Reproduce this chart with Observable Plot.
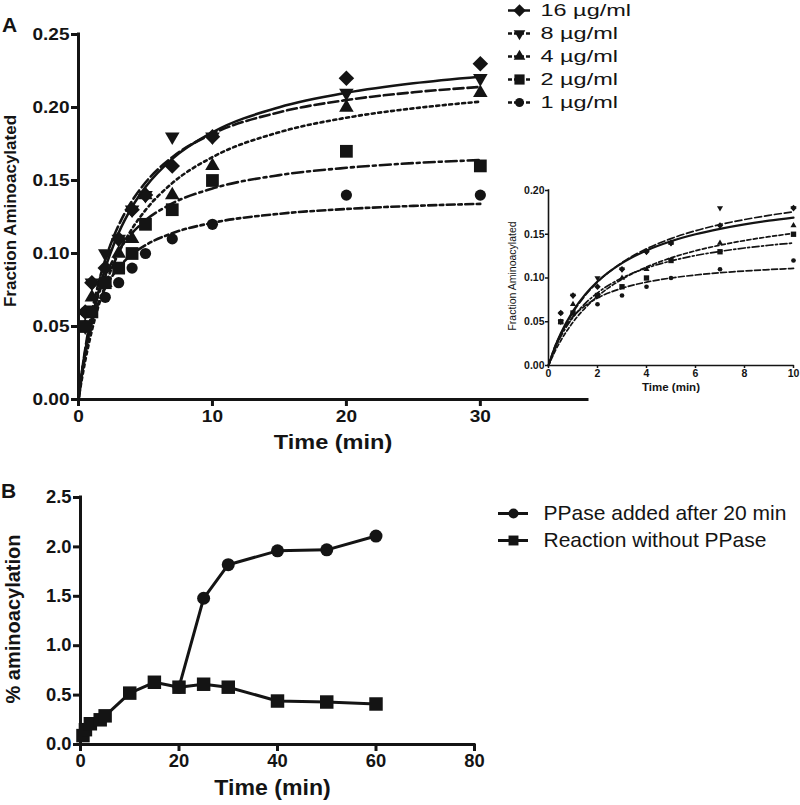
<!DOCTYPE html>
<html>
<head>
<meta charset="utf-8">
<script src="https://cdn.jsdelivr.net/npm/d3@7"></script>
<script src="https://cdn.jsdelivr.net/npm/@observablehq/plot@0.6"></script>
<style>
  html, body { margin: 0; padding: 0; background: #fff; }
  #wrap { position: relative; width: 800px; height: 805px; background: #fff; overflow: hidden;
          font-family: "Liberation Sans", Arial, Helvetica, sans-serif; }
  .panel { position: absolute; font-weight: bold; font-size: 21px; line-height: 1; color: #141414; }
</style>
</head>
<body>
<div id="wrap"></div>
<script>
// ---------------- DATA ----------------
// Panel A: observed points
const seriesNames = ["16 µg/ml", "8 µg/ml", "4 µg/ml", "2 µg/ml", "1 µg/ml"];
const tObs  = [0.5, 1, 2, 3, 4, 5, 7, 10, 20, 30];
const obs16 = [0.06, 0.08, 0.09, 0.11, 0.13, 0.14, 0.16, 0.18, 0.22, 0.23];
const obs8  = [0.05, 0.08, 0.10, 0.11, 0.13, 0.14, 0.18, 0.18, 0.21, 0.22];
const obs4  = [0.05, 0.07, 0.08, 0.10, 0.11, 0.14, 0.14, 0.16, 0.20, 0.21];
const obs2  = [0.05, 0.06, 0.08, 0.09, 0.10, 0.12, 0.13, 0.15, 0.17, 0.16];
const obs1  = [0.06, 0.06, 0.07, 0.08, 0.09, 0.10, 0.11, 0.12, 0.14, 0.14];
// Panel A: fitted curves
const tFit  = [0, 0.25, 0.5, 1, 1.5, 2, 3, 4, 5, 7, 10, 15, 20, 25, 30];
const fit16 = [0, 0.0165, 0.0310, 0.0551, 0.0743, 0.0900, 0.1142, 0.1319, 0.1455, 0.1648, 0.1830, 0.2002, 0.2101, 0.2166, 0.2211];
const fit8  = [0, 0.0186, 0.0345, 0.0602, 0.0800, 0.0958, 0.1194, 0.1361, 0.1486, 0.1660, 0.1820, 0.1968, 0.2051, 0.2104, 0.2141];
const fit4  = [0, 0.0139, 0.0263, 0.0472, 0.0642, 0.0784, 0.1005, 0.1170, 0.1297, 0.1482, 0.1660, 0.1831, 0.1930, 0.1994, 0.2040];
const fit2  = [0, 0.0182, 0.0329, 0.0555, 0.0719, 0.0844, 0.1021, 0.1140, 0.1227, 0.1343, 0.1445, 0.1537, 0.1587, 0.1619, 0.1640];
const fit1  = [0, 0.0182, 0.0322, 0.0524, 0.0664, 0.0765, 0.0904, 0.0994, 0.1057, 0.1139, 0.1210, 0.1272, 0.1305, 0.1326, 0.1340];
// Inset (0-10 min) fitted curves
const tFitIn = [0, 0.25, 0.5, 1, 1.5, 2, 3, 4, 5, 6, 7, 8, 9, 10];
const in16 = [0, 0.0201, 0.0366, 0.0623, 0.0813, 0.0960, 0.1170, 0.1315, 0.1420, 0.1500, 0.1562, 0.1613, 0.1655, 0.1690];
const in8  = [0, 0.0190, 0.0351, 0.0606, 0.0800, 0.0953, 0.1177, 0.1334, 0.1450, 0.1540, 0.1611, 0.1668, 0.1716, 0.1756];
const in4  = [0, 0.0153, 0.0283, 0.0495, 0.0659, 0.0790, 0.0986, 0.1125, 0.1230, 0.1311, 0.1375, 0.1428, 0.1472, 0.1510];
const in2  = [0, 0.0182, 0.0329, 0.0550, 0.0710, 0.0830, 0.1000, 0.1114, 0.1195, 0.1257, 0.1304, 0.1343, 0.1374, 0.1400];
const in1  = [0, 0.0210, 0.0359, 0.0558, 0.0684, 0.0771, 0.0883, 0.0953, 0.1000, 0.1034, 0.1060, 0.1080, 0.1096, 0.1110];
// Axis ticks
const xTicksA = [0, 10, 20, 30];
const yTicksA = [0, 0.05, 0.10, 0.15, 0.20, 0.25];
const xTicksIn = [0, 2, 4, 6, 8, 10];
const yTicksIn = [0, 0.05, 0.10, 0.15, 0.20];
// Panel B
const legendB = ["PPase added after 20 min", "Reaction without PPase"];
const tB        = [0.5, 1, 2, 4, 5, 10, 15, 20, 25, 30, 40, 50, 60];
const noPPase   = [0.09, 0.15, 0.21, 0.25, 0.29, 0.52, 0.63, 0.58, 0.61, 0.58, 0.44, 0.43, 0.41];
const tPPase    = [20, 25, 30, 40, 50, 60];
const withPPase = [0.58, 1.48, 1.82, 1.96, 1.97, 2.11];
const xTicksB = [0, 20, 40, 60, 80];
const yTicksB = [0, 0.5, 1.0, 1.5, 2.0, 2.5];

// ---------------- STYLE ----------------
const ink = "#141414";
const FONT = "'Liberation Sans', Arial, Helvetica, sans-serif";
const triangleDown = {
  draw(ctx, size) {
    const y = -Math.sqrt(size / (Math.sqrt(3) * 3));
    ctx.moveTo(0, -y * 2);
    ctx.lineTo(-Math.sqrt(3) * y, y);
    ctx.lineTo(Math.sqrt(3) * y, y);
    ctx.closePath();
  }
};
const symbols = ["diamond2", triangleDown, "triangle", "square", "circle"];
const symR    = [7, 5.4, 5.4, 7.2, 5.6];
const dashes  = [null, "10,4", "3,3.5", "11,4,3,4", "8,3.5,3.5,3.5"];
const inDash  = [null, "7,3", "4,2.5", "7,2.5,2,2.5", "6,2.5"];
const obsAll = [obs16, obs8, obs4, obs2, obs1];
const fitAll = [fit16, fit8, fit4, fit2, fit1];
const inAll  = [in16, in8, in4, in2, in1];
const series = seriesNames.map((name, i) => ({
  name, symbol: symbols[i], r: symR[i], dash: dashes[i], inDash: inDash[i],
  obs: obsAll[i], fit: fitAll[i], inFit: inAll[i]
}));

const wrap = document.getElementById("wrap");
function place(el, left, top) {
  el.style.position = "absolute";
  el.style.left = left + "px";
  el.style.top = top + "px";
  wrap.appendChild(el);
  return el;
}
function stretch(svg, factor) {
  svg.querySelectorAll("text").forEach(t => {
    const tr = t.getAttribute("transform") || "";
    if (tr.includes("rotate")) return;
    const len = t.getComputedTextLength();
    if (len > 0) {
      t.setAttribute("textLength", (len * factor).toFixed(2));
      t.setAttribute("lengthAdjust", "spacingAndGlyphs");
    }
  });
}
const baseStyle = (w) => ({fontFamily: FONT, fontWeight: w, color: ink, background: "transparent", overflow: "visible"});
const xLabel = (txt, dx, dy, size) => Plot.text([txt], {text: d => d, frameAnchor: "bottom",
  textAnchor: "middle", lineAnchor: "middle", dx, dy, fontSize: size, fontWeight: "bold", fill: ink});
const yLabel = (txt, dx, dy, size, weight) => Plot.text([txt], {text: d => d, frameAnchor: "left",
  textAnchor: "middle", lineAnchor: "middle", rotate: -90, dx, dy, fontSize: size, fontWeight: weight, fill: ink});

// ---------------- PANEL A (main) ----------------
const mainA = Plot.plot({
  width: 600, height: 460,
  marginLeft: 78, marginRight: 13, marginTop: 34, marginBottom: 61,
  x: {domain: [0, 38]},
  y: {domain: [0, 0.25]},
  style: baseStyle("bold"),
  marks: [
    ...series.map(s => Plot.line(d3.zip(tFit, s.fit), {
      x: d => d[0], y: d => d[1], stroke: ink, strokeWidth: 2.6,
      strokeDasharray: s.dash, curve: "monotone-x"
    })),
    ...series.map(s => Plot.dot(d3.zip(tObs, s.obs), {
      x: d => d[0], y: d => d[1], symbol: s.symbol, r: s.r, fill: ink, stroke: "none"
    })),
    Plot.axisY({ticks: yTicksA, tickFormat: d3.format(".2f"), tickSize: 7, tickPadding: 2,
      strokeWidth: 3, fontSize: 17, fontWeight: "bold", fill: ink, label: null}),
    Plot.axisX({ticks: xTicksA, tickFormat: d3.format("d"), tickSize: 7, tickPadding: 3,
      strokeWidth: 3, fontSize: 17, fontWeight: "bold", fill: ink, label: null}),
    Plot.ruleX([0], {stroke: ink, strokeWidth: 3, strokeLinecap: "square"}),
    Plot.ruleY([0], {stroke: ink, strokeWidth: 3, strokeLinecap: "square"}),
    xLabel("Time (min)", 0, 43, 21),
    yLabel("Fraction Aminoacylated", -68, -6, 17, "bold")
  ]
});
place(mainA, 0, 0);
stretch(mainA, 1.12);

// ---------------- PANEL A legend ----------------
const legA = Plot.plot({
  width: 150, height: 115, margin: 0,
  x: {domain: [0, 150], range: [0, 150], axis: null},
  y: {type: "point", domain: seriesNames, range: [8, 103], padding: 0, axis: null},
  style: baseStyle("normal"),
  marks: [
    ...series.map(s => Plot.ruleY([s.name], {x1: 8, x2: 30, stroke: ink, strokeWidth: 2.5,
      strokeDasharray: s.dash ? "4,2" : null})),
    ...series.map(s => Plot.dot([s.name], {x: 19, y: d => d, symbol: s.symbol,
      r: s.r * 0.8, fill: ink, stroke: "none"})),
    Plot.text(seriesNames, {x: 40, y: d => d, text: d => d, textAnchor: "start",
      fontSize: 17, fill: ink})
  ]
});
place(legA, 500, 0);
stretch(legA, 1.38);

// ---------------- PANEL A inset ----------------
const inset = Plot.plot({
  width: 310, height: 215,
  marginLeft: 58, marginRight: 7, marginTop: 10, marginBottom: 30,
  x: {domain: [0, 10]},
  y: {domain: [0, 0.20]},
  style: baseStyle("bold"),
  marks: [
    ...series.map((s, i) => Plot.line(d3.zip(tFitIn, s.inFit), {
      x: d => d[0], y: d => d[1], stroke: ink, strokeWidth: i === 0 ? 2.2 : 1.7,
      strokeDasharray: s.inDash, curve: "monotone-x"
    })),
    ...series.map(s => Plot.dot(d3.zip(tObs.slice(0, 8), s.obs.slice(0, 8)), {
      x: d => d[0], y: d => d[1], symbol: s.symbol, r: s.r * 0.42, fill: ink, stroke: "none"
    })),
    Plot.axisY({ticks: yTicksIn, tickFormat: d3.format(".2f"), tickSize: 3, tickPadding: 1,
      strokeWidth: 1.5, fontSize: 10.5, fontWeight: "bold", fill: ink, label: null}),
    Plot.axisX({ticks: xTicksIn, tickFormat: d3.format("d"), tickSize: 3, tickPadding: 1,
      strokeWidth: 1.5, fontSize: 10.5, fontWeight: "bold", fill: ink, label: null}),
    Plot.ruleX([0], {stroke: ink, strokeWidth: 1.6, strokeLinecap: "square"}),
    Plot.ruleY([0], {stroke: ink, strokeWidth: 1.6, strokeLinecap: "square"}),
    xLabel("Time (min)", 0, 22, 11.5),
    yLabel("Fraction Aminoacylated", -36, -2, 10.5, "normal")
  ]
});
place(inset, 490, 180);

// ---------------- PANEL B ----------------
const plotB = Plot.plot({
  width: 500, height: 325,
  marginLeft: 80, marginRight: 26, marginTop: 17, marginBottom: 61,
  x: {domain: [0, 80]},
  y: {domain: [0, 2.5]},
  style: baseStyle("bold"),
  marks: [
    Plot.line(d3.zip(tPPase, withPPase), {x: d => d[0], y: d => d[1], stroke: ink, strokeWidth: 3}),
    Plot.line(d3.zip(tB, noPPase), {x: d => d[0], y: d => d[1], stroke: ink, strokeWidth: 3}),
    Plot.dot(d3.zip(tPPase, withPPase), {x: d => d[0], y: d => d[1], symbol: "circle", r: 6.5, fill: ink, stroke: "none"}),
    Plot.dot(d3.zip(tB, noPPase), {x: d => d[0], y: d => d[1], symbol: "square", r: 7.6, fill: ink, stroke: "none"}),
    Plot.axisY({ticks: yTicksB, tickFormat: d3.format(".1f"), tickSize: 7, tickPadding: 2,
      strokeWidth: 3, fontSize: 17.5, fontWeight: "bold", fill: ink, label: null}),
    Plot.axisX({ticks: xTicksB, tickFormat: d3.format("d"), tickSize: 7, tickPadding: 3,
      strokeWidth: 3, fontSize: 17.5, fontWeight: "bold", fill: ink, label: null}),
    Plot.ruleX([0], {stroke: ink, strokeWidth: 3, strokeLinecap: "square"}),
    Plot.ruleY([0], {stroke: ink, strokeWidth: 3, strokeLinecap: "square"}),
    xLabel("Time (min)", -5, 43, 22),
    yLabel("% aminoacylation", -67, -2, 20, "bold")
  ]
});
place(plotB, 0, 480);
stretch(plotB, 1.05);

// ---------------- PANEL B legend ----------------
const legB = Plot.plot({
  width: 310, height: 60, margin: 0,
  x: {domain: [0, 310], range: [0, 310], axis: null},
  y: {type: "point", domain: legendB, range: [18, 45], padding: 0, axis: null},
  style: baseStyle("normal"),
  marks: [
    Plot.ruleY(legendB, {y: d => d, x1: 8, x2: 38, stroke: ink, strokeWidth: 3}),
    Plot.dot([legendB[0]], {x: 23, y: d => d, symbol: "circle", r: 5, fill: ink, stroke: "none"}),
    Plot.dot([legendB[1]], {x: 23, y: d => d, symbol: "square", r: 5.6, fill: ink, stroke: "none"}),
    Plot.text(legendB, {x: 53, y: d => d, text: d => d, textAnchor: "start", fontSize: 21, fill: ink})
  ]
});
place(legB, 490, 495);

// ---------------- panel letters ----------------
const la = document.createElement("div");
la.className = "panel"; la.textContent = "A";
place(la, 2, 14);
const lb = document.createElement("div");
lb.className = "panel"; lb.textContent = "B";
place(lb, 1, 480);
</script>
</body>
</html>
